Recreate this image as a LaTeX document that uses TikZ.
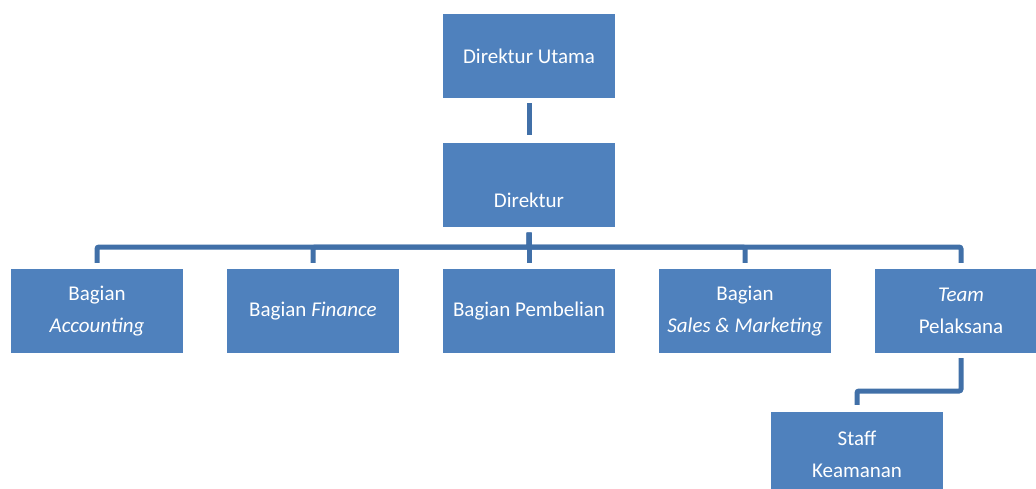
\documentclass[tikz,border=0pt]{standalone}
\usepackage{fontspec}
\setmainfont{Carlito}
\usepackage{tikz}
\usepackage{xcolor}
\usetikzlibrary{calc}
\usetikzlibrary{positioning}

\definecolor{boxblue}{RGB}{79,129,189}
\definecolor{lineblue}{RGB}{65,112,168}

\tikzset{
  unit/.style={fill=boxblue, text=white, minimum width=172pt, minimum height=84pt,
    inner sep=0pt, align=center, font=\fontsize{21}{32}\selectfont},
  link/.style={draw=lineblue, line width=5pt, rounded corners=2pt}
}

\begin{document}
\begin{tikzpicture}[x=1pt,y=-1pt]
\useasboundingbox (0,0) rectangle (1036,488);

% pimpinan
\node[unit] (utama) at (529,56) {Direktur Utama};
\node[unit] (dir) at (529,184.5) {\mbox{}\\[14pt]Direktur};

% bagian
\node[unit] (acc) at (97,311) {Bagian\\\textit{Accounting}};
\node[unit] (fin) at (313,311) {Bagian \textit{Finance}};
\node[unit] (beli) at (529,311) {Bagian Pembelian};
\node[unit] (sales) at (745,311) {Bagian\\\textit{Sales \& Marketing}};
\node[unit] (team) at (961,311) {\textit{Team}\\Pelaksana};
\node[unit] (staff) at (857,454) {Staff\\Keamanan};

\coordinate (bus) at (529,247);
\coordinate (turn) at (857,391);

\draw[link] ([yshift=-5pt]utama.south) -- ([yshift=7pt]dir.north);
\foreach \c in {acc,fin,beli,sales,team}
  \draw[link] ([yshift=-6pt]dir.south) |- (bus -| \c) -- ([yshift=6pt]\c.north);
\draw[link] ([yshift=-5pt]team.south) |- (turn) -- ([yshift=7pt]staff.north);

\end{tikzpicture}
\end{document}
